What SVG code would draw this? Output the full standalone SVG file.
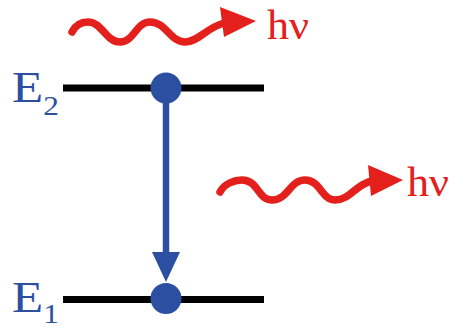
<svg xmlns="http://www.w3.org/2000/svg" width="455" height="329" viewBox="0 0 455 329">
<style>
.lvl{stroke:#000;stroke-width:7;fill:none}
.wave{stroke:#e3201b;stroke-width:7.5;fill:none;stroke-linecap:round}
.head{fill:#e3201b}
.hv{font-family:"Liberation Serif","Times New Roman",serif;font-size:43px;fill:#e3201b}
.elab{font-family:"Liberation Serif","Times New Roman",serif;font-size:44px;fill:#2d4fa2}
.dot{fill:#2d4fa2}
.tr{stroke:#2d4fa2;stroke-width:6.5;fill:none}
</style>
<rect width="455" height="329" fill="#fff"/>
<g id="level-E2">
<line class="lvl" x1="63" y1="88" x2="264" y2="88"/>
<text class="elab" transform="translate(12,102) scale(1.16,1)">E<tspan font-size="27" dy="13">2</tspan></text>
</g>
<g id="level-E1">
<line class="lvl" x1="63" y1="299.5" x2="264" y2="299.5"/>
<text class="elab" transform="translate(12,312) scale(1.16,1)">E<tspan font-size="27" dy="11">1</tspan></text>
</g>
<g id="connectors">
<line class="tr" x1="166" y1="88" x2="166" y2="254"/>
<polygon class="dot" points="152,252 180,252 166,282"/>
</g>
<g id="electron-E2"><circle class="dot" cx="166" cy="88" r="15.5"/></g>
<g id="electron-E1"><circle class="dot" cx="166" cy="298.5" r="15.5"/></g>
<g id="photon-in">
<path class="wave" d="M72,32 C76,24 82,22 88,22 C102,22 106,42 120,42 C134,42 136,22 150,22 C166,22 170,42 185,42 C198,42 206,28 224,23"/>
<polygon class="head" points="220,7 224,37 256,21"/>
<text class="hv" x="267" y="38.5" textLength="42" lengthAdjust="spacingAndGlyphs">hν</text>
</g>
<g id="photon-out">
<path class="wave" d="M220,192 C224,184 234,180 242,180 C258,180 258,200 272,200 C288,200 290,180 305,180 C320,180 322,200 335,200 C350,200 356,184 372,181"/>
<polygon class="head" points="368,165 371,196 403,180"/>
<text class="hv" x="407" y="196" textLength="42" lengthAdjust="spacingAndGlyphs">hν</text>
</g>
</svg>
